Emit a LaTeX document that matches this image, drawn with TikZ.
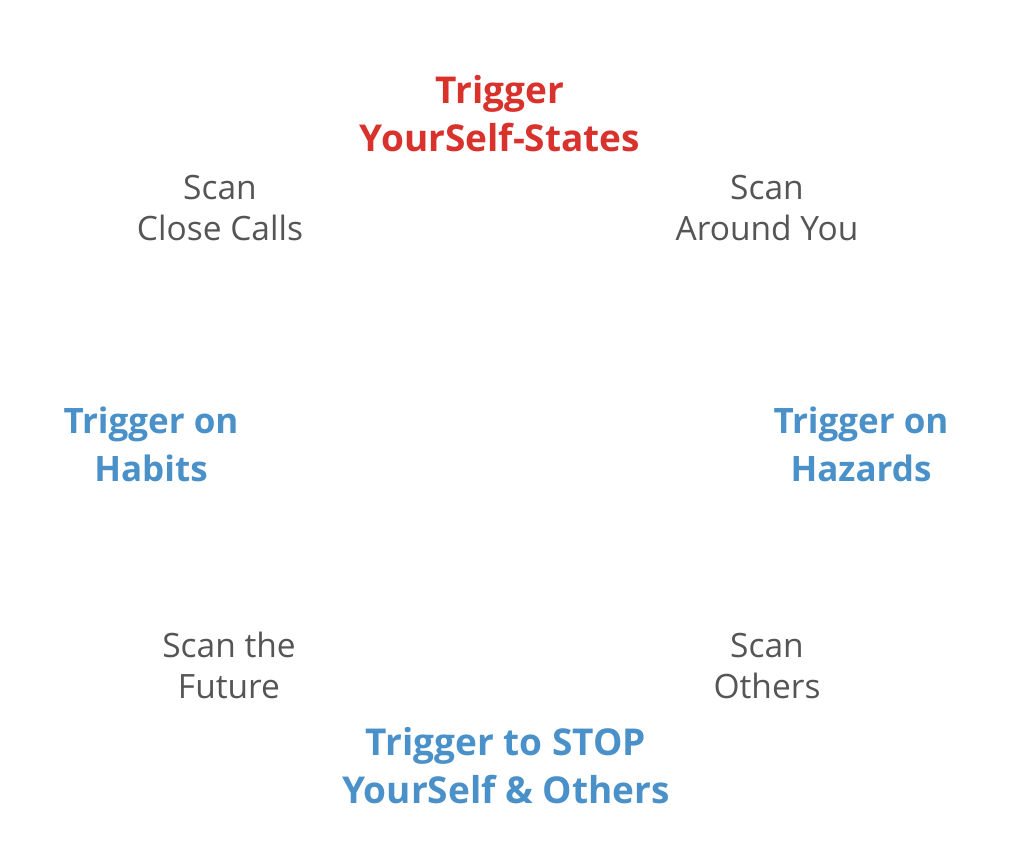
\documentclass[tikz,border=0pt]{standalone}
\usepackage{fontspec}
\setmainfont{Open Sans}
\usepackage{tikz}
\usetikzlibrary{positioning}
\definecolor{trigred}{HTML}{D9322C}
\definecolor{trigblue}{HTML}{4B91C9}
\definecolor{scangray}{HTML}{555555}

\begin{document}
\begin{tikzpicture}[x=1pt,y=-1pt,
  trig/.style={align=center,font=\fontsize{37}{48}\selectfont\bfseries,inner sep=0pt},
  scan/.style={align=center,font=\fontsize{33.5}{41}\selectfont,text=scangray,inner sep=0pt}]
  \useasboundingbox[fill=white] (0,0) rectangle (1024,843);
  \node[trig,text=trigred] (selfstates) at (500,114){Trigger\\YourSelf-States};
  \node[scan] (closecalls) at (220,208){Scan\\Close Calls};
  \node[scan] (aroundyou) at (767,208){Scan\\Around You};
  \node[trig,text=trigblue,font=\fontsize{35}{48}\selectfont\bfseries] (habits) at (151,444){Trigger on\\Habits};
  \node[trig,text=trigblue,font=\fontsize{35}{48}\selectfont\bfseries] (hazards) at (861,444){Trigger on\\Hazards};
  \node[scan] (future) at (229,665){Scan the\\Future};
  \node[scan] (others) at (767,666){Scan\\Others};
  \node[trig,text=trigblue] (stop) at (506,766){Trigger to STOP\\YourSelf \& Others};
\end{tikzpicture}
\end{document}
